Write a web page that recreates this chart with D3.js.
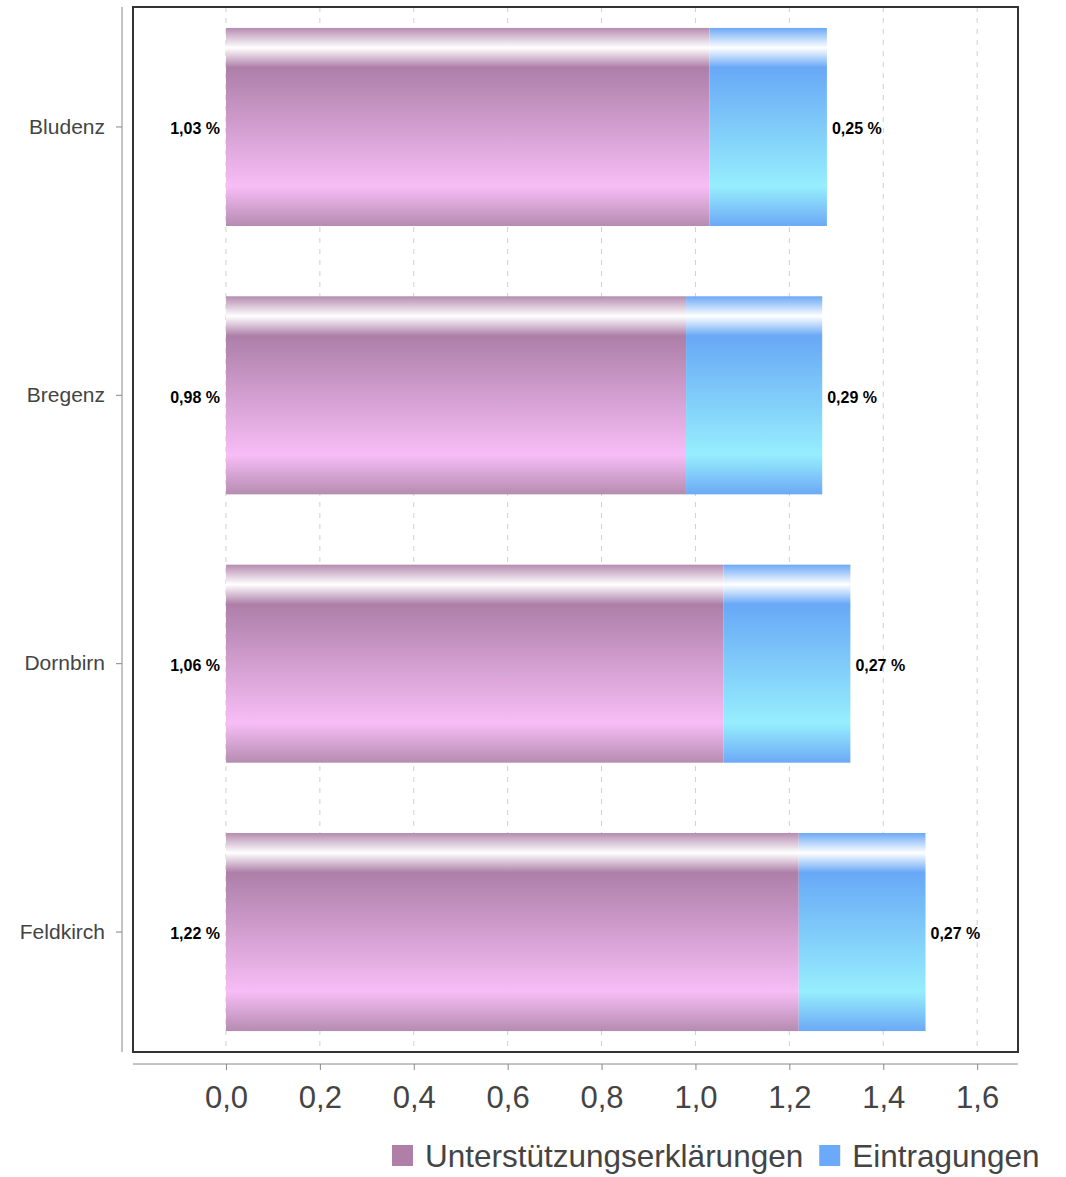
<!DOCTYPE html>
<html>
<head>
<meta charset="utf-8">
<script src="https://cdn.jsdelivr.net/npm/d3@7"></script>
<style>
  html, body { margin: 0; padding: 0; background: #fff; }
  svg { display: block; font-family: "Liberation Sans", Arial, sans-serif; }
</style>
</head>
<body>
<svg id="chart" width="1066" height="1177"></svg>
<script>
const categories = ["Bludenz", "Bregenz", "Dornbirn", "Feldkirch"];
const unterstuetzung = [1.03, 0.98, 1.06, 1.22];
const eintragungen = [0.25, 0.29, 0.27, 0.27];
const seriesNames = ["Unterstützungserklärungen", "Eintragungen"];
const tickValues = [0, 0.2, 0.4, 0.6, 0.8, 1.0, 1.2, 1.4, 1.6];

const svg = d3.select("#chart");
const plot = { left: 133, top: 7, right: 1018, bottom: 1052 };

const x = d3.scaleLinear().domain([-0.198, 1.687]).range([plot.left, plot.right]);
const y = d3.scaleBand().domain(categories).range([plot.top, plot.bottom])
  .paddingInner(0.262).paddingOuter(0.078);

const fmt = v => d3.format(".2f")(v).replace(".", ",") + " %";
const fmtTick = v => d3.format(".1f")(v).replace(".", ",");

// gradients
const defs = svg.append("defs");
function grad(id, edge, mid, peak) {
  const g = defs.append("linearGradient").attr("id", id)
    .attr("x1", 0).attr("y1", 0).attr("x2", 0).attr("y2", 1);
  [[0, edge], [0.1, "#ffffff"], [0.2, mid], [0.8, peak], [1, edge]].forEach(([o, c]) =>
    g.append("stop").attr("offset", o).attr("stop-color", c));
}
grad("gPurple", "#b58cb0", "#ad7fa8", "#f7bdf6");
grad("gBlue", "#6ca9f6", "#68a8f6", "#96eefd");

// gridlines
svg.append("g").selectAll("line").data(tickValues).join("line")
  .attr("x1", d => x(d)).attr("x2", d => x(d))
  .attr("y1", plot.top).attr("y2", plot.bottom)
  .attr("stroke", "#d0d0d0").attr("stroke-width", 1)
  .attr("stroke-dasharray", "5,6");

// bars
const rows = categories.map((c, i) => ({ c, a: unterstuetzung[i], b: eintragungen[i] }));
const bars = svg.append("g");
bars.selectAll("rect.a").data(rows).join("rect").attr("class", "a")
  .attr("x", x(0)).attr("y", d => y(d.c))
  .attr("width", d => x(d.a) - x(0)).attr("height", y.bandwidth())
  .attr("fill", "url(#gPurple)");
bars.selectAll("rect.b").data(rows).join("rect").attr("class", "b")
  .attr("x", d => x(d.a)).attr("y", d => y(d.c))
  .attr("width", d => x(d.a + d.b) - x(d.a)).attr("height", y.bandwidth())
  .attr("fill", "url(#gBlue)");

// value labels
svg.append("g").selectAll("text").data(rows).join("text")
  .attr("x", x(0) - 6).attr("y", d => y(d.c) + y.bandwidth() / 2)
  .attr("dy", "0.45em").attr("text-anchor", "end")
  .attr("font-size", 16).attr("font-weight", "bold").attr("fill", "#000")
  .text(d => fmt(d.a));
svg.append("g").selectAll("text").data(rows).join("text")
  .attr("x", d => x(d.a + d.b) + 5).attr("y", d => y(d.c) + y.bandwidth() / 2)
  .attr("dy", "0.45em").attr("text-anchor", "start")
  .attr("font-size", 16).attr("font-weight", "bold").attr("fill", "#000")
  .text(d => fmt(d.b));

// frame
svg.append("rect").attr("x", plot.left).attr("y", plot.top)
  .attr("width", plot.right - plot.left).attr("height", plot.bottom - plot.top)
  .attr("fill", "none").attr("stroke", "#333").attr("stroke-width", 2);

// left axis
const yAxisG = svg.append("g").attr("transform", "translate(122,0)")
  .call(d3.axisLeft(y).tickSize(6).tickPadding(11));
yAxisG.select(".domain").attr("stroke", "#888").attr("d", `M0,${plot.top}V${plot.bottom}`);
yAxisG.selectAll(".tick line").attr("stroke", "#888");
yAxisG.selectAll(".tick text").attr("font-size", 21).attr("fill", "#444")
  .attr("font-family", "Liberation Sans, Arial, sans-serif");

// bottom axis
const xAxisG = svg.append("g").attr("transform", "translate(0,1064)")
  .call(d3.axisBottom(x).tickValues(tickValues).tickFormat(fmtTick).tickSize(6).tickPadding(16));
xAxisG.select(".domain").attr("stroke", "#888").attr("d", `M${plot.left},0H${plot.right}`);
xAxisG.selectAll(".tick line").attr("stroke", "#888");
xAxisG.selectAll(".tick text").attr("font-size", 31).attr("fill", "#444")
  .attr("font-family", "Liberation Sans, Arial, sans-serif");

// legend
const legendColors = ["#b07fa8", "#6aaaf8"];
const legend = svg.append("g");
let lx = 392;
seriesNames.forEach((name, i) => {
  legend.append("rect").attr("x", lx).attr("y", 1145).attr("width", 21).attr("height", 21)
    .attr("fill", legendColors[i]);
  const t = legend.append("text").attr("x", lx + 33).attr("y", 1167)
    .attr("font-size", 31.5).attr("fill", "#444").text(name);
  lx += 33 + t.node().getComputedTextLength() + 16;
});
</script>
</body>
</html>
